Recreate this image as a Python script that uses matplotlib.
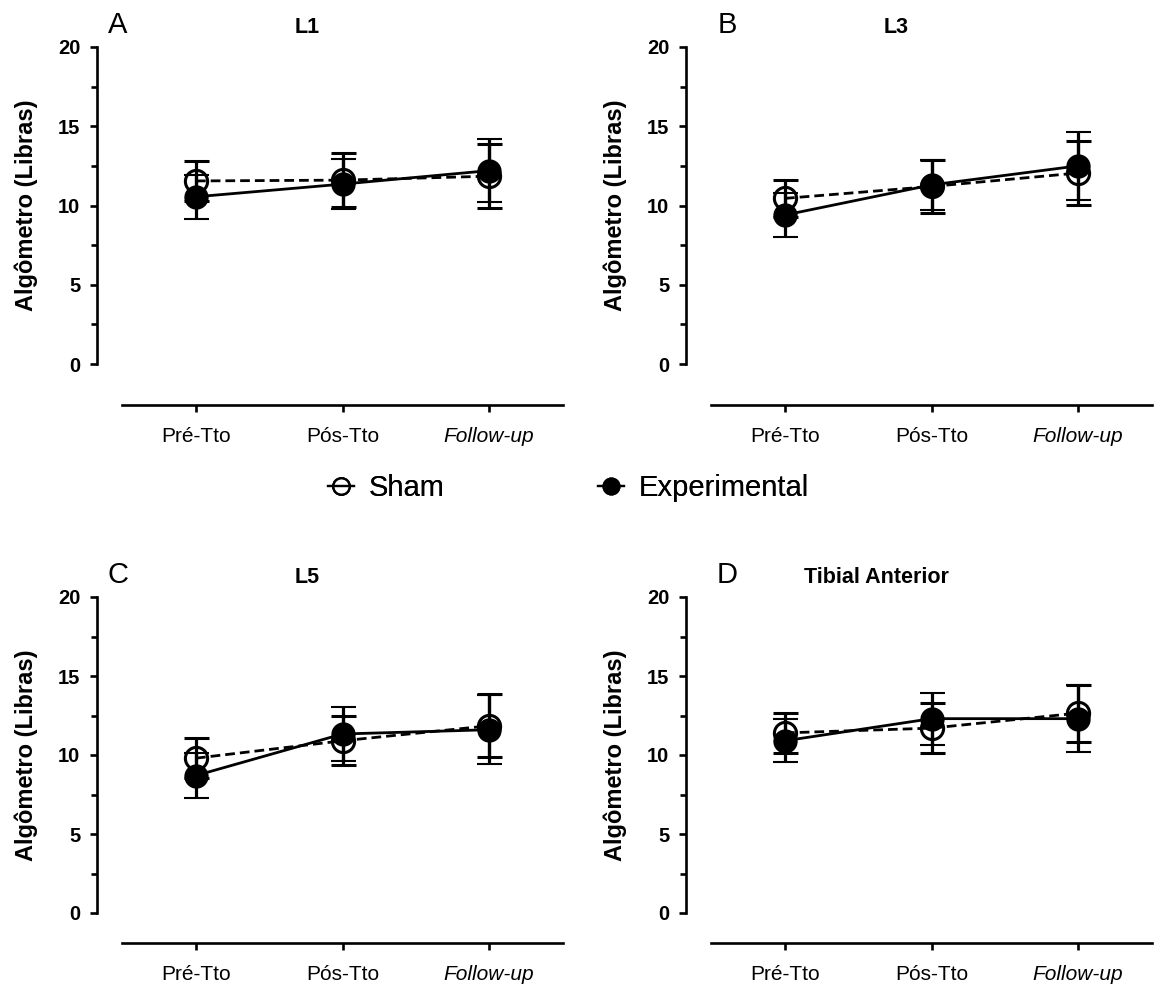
import matplotlib
matplotlib.use("Agg")
import matplotlib.pyplot as plt
from matplotlib.lines import Line2D
from matplotlib.ticker import MultipleLocator

plt.rcParams['font.family'] = ['Liberation Sans', 'DejaVu Sans']

categories = ["Pré-Tto", "Pós-Tto", "Follow-up"]
panel_titles = ["L1", "L3", "L5", "Tibial Anterior"]
panel_letters = ["A", "B", "C", "D"]
series_names = ["Sham", "Experimental"]
y_label = "Algômetro (Libras)"

sham_L1 = [11.55, 11.6, 11.85]
sham_L1_err = [1.25, 1.7, 2.0]
exp_L1 = [10.55, 11.35, 12.2]
exp_L1_err = [1.4, 1.6, 2.0]

sham_L3 = [10.45, 11.2, 12.05]
sham_L3_err = [1.15, 1.65, 2.0]
exp_L3 = [9.4, 11.3, 12.5]
exp_L3_err = [1.4, 1.6, 2.15]

sham_L5 = [9.8, 10.9, 11.85]
sham_L5_err = [1.25, 1.55, 2.0]
exp_L5 = [8.7, 11.33, 11.6]
exp_L5_err = [1.45, 1.7, 2.2]

sham_TA = [11.4, 11.7, 12.65]
sham_TA_err = [1.25, 1.6, 1.8]
exp_TA = [10.9, 12.3, 12.3]
exp_TA_err = [1.35, 1.65, 2.1]

panels = [
    (sham_L1, sham_L1_err, exp_L1, exp_L1_err),
    (sham_L3, sham_L3_err, exp_L3, exp_L3_err),
    (sham_L5, sham_L5_err, exp_L5, exp_L5_err),
    (sham_TA, sham_TA_err, exp_TA, exp_TA_err),
]

W, H = 1172, 986
fig = plt.figure(figsize=(W / 100, H / 100), dpi=100)

# axes boxes in pixels: (left, top, right, bottom)
boxes = [(122, 47, 563, 364), (711, 47, 1152, 364),
         (122, 597, 563, 913), (711, 597, 1152, 913)]
bottom_offsets = [29.5, 29.5, 21.5, 21.5]
letter_pos = [(118, 25), (727, 25), (118, 575), (727, 575)]
title_x = [0.42, 0.42, 0.42, 0.376]

lw_sp = 1.9
x = list(range(len(categories)))
for i, (box, data) in enumerate(zip(boxes, panels)):
    l, t, r, b = box
    ax = fig.add_axes([l / W, (H - b) / H, (r - l) / W, (b - t) / H])
    s, se, e, ee = data
    ax.errorbar(x, s, yerr=se, color='black', ls=(0, (3.5, 1.8)), lw=2.0,
                marker='o', ms=16, mfc='none', mec='black', mew=2.2,
                elinewidth=2.3, capsize=9, capthick=2.8, zorder=2)
    ax.errorbar(x, e, yerr=ee, color='black', ls='-', lw=2.0,
                marker='o', ms=16, mfc='black', mec='black', mew=1.5,
                elinewidth=2.3, capsize=9, capthick=2.8, zorder=3)
    ax.set_xlim(-0.505, 2.505)
    ax.set_ylim(0, 20)
    for sp in ['top', 'right']:
        ax.spines[sp].set_visible(False)
    ax.spines['left'].set_position(('outward', 18))
    ax.spines['bottom'].set_position(('outward', bottom_offsets[i]))
    ax.spines['left'].set_linewidth(lw_sp)
    ax.spines['bottom'].set_linewidth(lw_sp)
    ax.yaxis.set_major_locator(MultipleLocator(5))
    ax.yaxis.set_minor_locator(MultipleLocator(2.5))
    ax.tick_params(axis='y', which='major', length=5, width=lw_sp, pad=7,
                   labelsize=14.5)
    ax.tick_params(axis='y', which='minor', length=4, width=lw_sp)
    ax.tick_params(axis='x', which='major', length=5, width=lw_sp, pad=11,
                   labelsize=15)
    for lab in ax.get_yticklabels():
        lab.set_fontweight('bold')
    ax.set_xticks(x)
    ax.set_xticklabels(categories)
    ax.get_xticklabels()[2].set_style('italic')
    ax.set_ylabel(y_label, fontsize=17, fontweight='bold')
    ax.yaxis.set_label_coords(-0.19, 0.5)
    ax.text(title_x[i], 1.063, panel_titles[i], transform=ax.transAxes,
            ha='center', va='center', fontsize=15.5, fontweight='bold')
    lx, ly = letter_pos[i]
    fig.text(lx / W, 1 - ly / H, panel_letters[i], ha='center', va='center',
             fontsize=21)

handles = [
    Line2D([], [], color='black', lw=1.6, marker='o', ms=12, mfc='none',
           mec='black', mew=1.6),
    Line2D([], [], color='black', lw=1.6, marker='o', ms=12, mfc='black',
           mec='black'),
]
leg_x = [328, 598]
for h, name, lx in zip(handles, series_names, leg_x):
    leg = fig.legend([h], [name], loc='center left',
                     bbox_to_anchor=(lx / W, 1 - 488 / H), frameon=False,
                     fontsize=21, handlelength=0.9, handletextpad=0.5,
                     borderaxespad=0, borderpad=0)
    fig.add_artist(leg)

fig.savefig("out.png", dpi=100)
